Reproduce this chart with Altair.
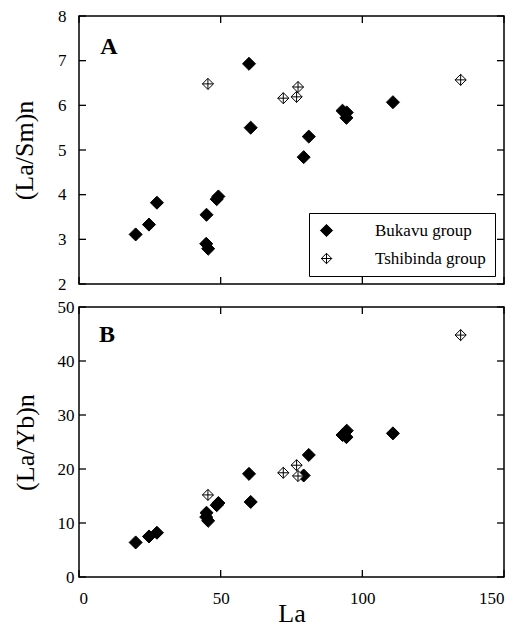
import altair as alt
import pandas as pd

# ---- data ----
bukavu_la   = [20.0, 24.7, 27.5, 45.0, 44.9, 45.6, 48.6, 49.2, 60.0, 60.6, 79.3, 81.1, 93.0, 94.5, 94.4, 110.8]
bukavu_lasm = [3.11, 3.33, 3.82, 3.55, 2.90, 2.79, 3.90, 3.96, 6.93, 5.50, 4.84, 5.30, 5.88, 5.84, 5.72, 6.07]
bukavu_layb = [6.4, 7.5, 8.2, 11.9, 11.1, 10.4, 13.3, 13.7, 19.1, 13.9, 18.8, 22.6, 26.3, 27.1, 25.9, 26.6]

tshib_la   = [45.5, 72.1, 76.8, 77.3, 134.7]
tshib_lasm = [6.48, 6.16, 6.19, 6.41, 6.57]
tshib_layb = [15.2, 19.3, 20.7, 18.7, 44.8]

groups = ["Bukavu group", "Tshibinda group"]
x_ticks = [0, 50, 100, 150]
ya_ticks = [2, 3, 4, 5, 6, 7, 8]
yb_ticks = [0, 10, 20, 30, 40, 50]

rows = []
for la, a, b in zip(bukavu_la, bukavu_lasm, bukavu_layb):
    rows.append({"La": la, "LaSm": a, "LaYb": b, "group": groups[0]})
for la, a, b in zip(tshib_la, tshib_lasm, tshib_layb):
    rows.append({"La": la, "LaSm": a, "LaYb": b, "group": groups[1]})
df = pd.DataFrame(rows)

W, H_A, H_B = 425, 268, 270
SERIF = "Liberation Serif"
TICK_SIZE = 196  # sqrt(196)/2 = 7 px long inward ticks

crossed = "M0,-0.85L0.85,0L0,0.85L-0.85,0Z M0,-0.85L0,0.85 M-0.85,0L0.85,0"
shape_scale = alt.Scale(domain=groups, range=["diamond", crossed])
fill_scale = alt.Scale(domain=groups, range=["black", "white"])
stroke_scale = alt.Scale(domain=groups, range=["black", "black"])
xscale = alt.Scale(domain=[0, 150], nice=False, zero=False)


def tick_marks(tick_vals, yscale, h, xaxis, yaxis):
    xt = pd.DataFrame({"v": x_ticks})
    yt = pd.DataFrame({"v": tick_vals})

    def mk(data):
        return alt.Chart(data).mark_point(filled=False, stroke="black", strokeWidth=1.3, opacity=1,
                                          size=TICK_SIZE)
    bottom = mk(xt).encode(x=alt.X("v:Q", scale=xscale, axis=xaxis), y=alt.value(h),
                           shape=alt.value("M0,0L0,-1"))
    top = mk(xt).encode(x=alt.X("v:Q", scale=xscale, axis=xaxis), y=alt.value(0),
                        shape=alt.value("M0,0L0,1"))
    left = mk(yt).encode(y=alt.Y("v:Q", scale=yscale, axis=yaxis), x=alt.value(0),
                         shape=alt.value("M0,0L1,0"))
    right = mk(yt).encode(y=alt.Y("v:Q", scale=yscale, axis=yaxis), x=alt.value(W),
                          shape=alt.value("M0,0L-1,0"))
    return [bottom, top, left, right]


legend_a = alt.Legend(title=None, orient="none", legendX=230, legendY=197,
                      strokeColor="black", fillColor="white", padding=9,
                      labelFont=SERIF, labelFontSize=17, labelColor="black",
                      labelOffset=40, symbolSize=150, symbolStrokeWidth=1, rowPadding=10)

# ---- panel A ----
ya_scale = alt.Scale(domain=[2, 8], nice=False, zero=False)
ya_axis = alt.Axis(values=ya_ticks, title="(La/Sm)n", labelPadding=13, titlePadding=20, format="d")
pts_a = alt.Chart(df).mark_point(filled=False, strokeWidth=1, size=170, opacity=1).encode(
    x=alt.X("La:Q", scale=xscale, axis=None),
    y=alt.Y("LaSm:Q", scale=ya_scale, axis=ya_axis),
    shape=alt.Shape("group:N", scale=shape_scale, legend=legend_a),
    fill=alt.Fill("group:N", scale=fill_scale, legend=legend_a),
    stroke=alt.Stroke("group:N", scale=stroke_scale, legend=legend_a),
)
lab_a = alt.Chart(pd.DataFrame({"t": ["A"]})).mark_text(
    font=SERIF, fontSize=24, fontWeight="bold", color="black", align="center", baseline="middle").encode(
    text="t:N", x=alt.value(30), y=alt.value(31))
panel_a = alt.layer(pts_a, *tick_marks(ya_ticks, ya_scale, H_A, None, ya_axis), lab_a).properties(
    width=W, height=H_A)

# ---- panel B ----
yb_scale = alt.Scale(domain=[0, 50], nice=False, zero=False)
xb_axis = alt.Axis(values=x_ticks, title="La", labelPadding=13, titlePadding=-6, format="d")
yb_axis = alt.Axis(values=yb_ticks, title="(La/Yb)n", labelPadding=5, titlePadding=19, format="d")
pts_b = alt.Chart(df).mark_point(filled=False, strokeWidth=1, size=170, opacity=1).encode(
    x=alt.X("La:Q", scale=xscale, axis=xb_axis),
    y=alt.Y("LaYb:Q", scale=yb_scale, axis=yb_axis),
    shape=alt.Shape("group:N", scale=shape_scale, legend=None),
    fill=alt.Fill("group:N", scale=fill_scale, legend=None),
    stroke=alt.Stroke("group:N", scale=stroke_scale, legend=None),
)
lab_b = alt.Chart(pd.DataFrame({"t": ["B"]})).mark_text(
    font=SERIF, fontSize=24, fontWeight="bold", color="black", align="center", baseline="middle").encode(
    text="t:N", x=alt.value(28), y=alt.value(28))
panel_b = alt.layer(pts_b, *tick_marks(yb_ticks, yb_scale, H_B, xb_axis, yb_axis), lab_b).properties(
    width=W, height=H_B)

chart = alt.vconcat(panel_a, panel_b, spacing=4).resolve_scale(
    y="independent", shape="independent", fill="independent", stroke="independent").properties(
    padding={"left": 10, "top": 6, "right": 10, "bottom": 0},
    background="white",
).configure_view(stroke="black", strokeWidth=1.5).configure_axis(
    domain=False, ticks=False, grid=False,
    labelFont=SERIF, labelFontSize=17, labelColor="black",
    titleFont=SERIF, titleFontSize=26, titleFontWeight="normal", titleColor="black",
)

chart.save("out.html", embed_options={"renderer": "svg", "actions": False})
